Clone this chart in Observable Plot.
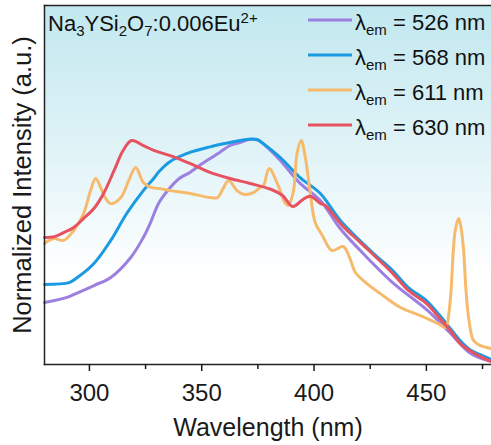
<!DOCTYPE html>
<html><head><meta charset="utf-8">
<script src="https://cdn.jsdelivr.net/npm/d3@7"></script>
<script src="https://cdn.jsdelivr.net/npm/@observablehq/plot@0.6"></script>
<style>
body{margin:0;background:#fff;}
#chart{position:relative;width:491px;height:445px;}
</style>
</head><body><div id="chart"></div>
<script>
// ---- data ----
const seriesLabels = ["526", "568", "611", "630"];
const seriesColors = ["#9b80e0", "#1a9ae2", "#f6ba6c", "#e6525f"];
const majorTicks = [300, 350, 400, 450];
const minorTicks = [325, 375, 425, 475];
const sampleName = ["Na", "3", "YSi", "2", "O", "7", ":0.006Eu", "2+"];

const wl526 = [280, 290, 294, 302, 309.5, 318.4, 324, 327, 331, 336, 340, 344.7, 349, 353.7, 358, 362.6, 367, 371, 375, 380, 385, 393.8, 402.8, 411.7, 420.6, 435, 450.5, 460.8, 469.7, 479];
const int526 = [0.276, 0.299, 0.316, 0.352, 0.388, 0.477, 0.566, 0.628, 0.722, 0.789, 0.829, 0.856, 0.887, 0.918, 0.945, 0.976, 0.989, 1.003, 1.0, 0.96, 0.909, 0.807, 0.731, 0.605, 0.508, 0.365, 0.241, 0.138, 0.049, 0.013];

const wl568 = [280, 291, 294, 302, 309.5, 316.6, 324, 328.7, 331, 336, 344.7, 353.7, 362.6, 370, 374.6, 378, 385, 393.8, 402.8, 411.7, 426, 435, 442, 450, 456, 461, 465, 470, 475, 479];
const int568 = [0.357, 0.365, 0.383, 0.450, 0.553, 0.673, 0.775, 0.830, 0.860, 0.905, 0.945, 0.970, 0.989, 1.003, 1.003, 0.980, 0.922, 0.833, 0.762, 0.642, 0.499, 0.419, 0.343, 0.285, 0.218, 0.156, 0.107, 0.062, 0.040, 0.022];

const wl611 = [280, 282, 284.5, 288.5, 293, 297.4, 300.5, 302.8, 305, 307, 309.5, 314, 317.5, 320.6, 324, 327.3, 331, 336, 344.7, 353.7, 357, 359.5, 362, 365.7, 369, 373, 376, 377.5, 380, 384, 387, 388.5, 390.7, 392.5, 394.3, 396, 398.3, 400.5, 403.7, 408, 413, 416, 418.4, 423, 429.5, 438.5, 447.4, 455, 458.6, 460, 461, 462, 463, 464.4, 465.5, 466.6, 467.5, 468.8, 471, 474, 479];
const int611 = [0.539, 0.553, 0.561, 0.553, 0.597, 0.673, 0.775, 0.829, 0.789, 0.744, 0.717, 0.744, 0.820, 0.878, 0.811, 0.789, 0.784, 0.775, 0.762, 0.744, 0.744, 0.784, 0.820, 0.775, 0.758, 0.766, 0.789, 0.798, 0.873, 0.798, 0.722, 0.709, 0.766, 0.945, 0.998, 0.931, 0.766, 0.633, 0.575, 0.508, 0.526, 0.472, 0.410, 0.365, 0.316, 0.254, 0.218, 0.183, 0.165, 0.227, 0.330, 0.508, 0.606, 0.651, 0.606, 0.508, 0.352, 0.209, 0.107, 0.085, 0.071];

const wl630 = [280, 284.5, 288.5, 293, 297.4, 302, 306.3, 311, 315, 318.8, 324, 328.7, 336, 344.7, 353.7, 362.6, 371.5, 381, 386, 390.5, 395, 398.3, 403, 405, 412.6, 421, 435, 442, 450, 456, 461, 465, 470, 475, 479];
const int630 = [0.566, 0.570, 0.588, 0.611, 0.651, 0.695, 0.762, 0.865, 0.954, 0.998, 0.976, 0.954, 0.931, 0.896, 0.856, 0.829, 0.807, 0.780, 0.753, 0.704, 0.735, 0.750, 0.717, 0.709, 0.619, 0.540, 0.406, 0.330, 0.272, 0.205, 0.147, 0.094, 0.058, 0.031, 0.013];

// ---- build table ----
const seriesWl = [wl526, wl568, wl611, wl630];
const seriesInt = [int526, int568, int611, int630];
const drawOrder = [0, 1, 2, 3];
const data = [];
for (const i of drawOrder) {
  seriesWl[i].forEach((w, j) => data.push({series: seriesLabels[i], wl: w, v: seriesInt[i][j]}));
}

const font = "'Liberation Sans', Arial, Helvetica, sans-serif";
const plot = Plot.plot({
  width: 491, height: 445,
  marginLeft: 44, marginRight: 0, marginTop: 5, marginBottom: 81,
  style: {fontFamily: font, background: "white", color: "#1a1a1a"},
  x: {domain: [280, 479]},
  y: {domain: [0, 1.6]},
  color: {domain: seriesLabels, range: seriesColors},
  marks: [
    Plot.frame({fill: "url(#bgGrad)", stroke: "none"}),
    Plot.line(data, {x: "wl", y: "v", z: "series", stroke: "series", strokeWidth: 3, curve: "catmull-rom", strokeLinejoin: "round"}),
    Plot.frame({anchor: "left", stroke: "#222", strokeWidth: 1.5}),
    Plot.frame({anchor: "top", stroke: "#222", strokeWidth: 1.5}),
    Plot.frame({anchor: "bottom", stroke: "#222", strokeWidth: 1.5}),
    Plot.axisX({ticks: majorTicks, tickSize: 7, tickPadding: 12, fontSize: 24, strokeWidth: 1.5, label: null, tickFormat: d => String(d)}),
    Plot.axisX({ticks: minorTicks, tickSize: 5, strokeWidth: 1.5, label: null, tickFormat: () => ""}),
    Plot.axisX({ticks: [], label: "Wavelength (nm)", labelAnchor: "center", labelArrow: "none", labelOffset: 71, fontSize: 25}),
    Plot.axisY({ticks: [], label: "Normalized Intensity (a.u.)", labelAnchor: "center", labelArrow: "none", labelOffset: 32, fontSize: 25.5})
  ]
});
document.getElementById("chart").appendChild(plot);

// ---- gradient background ----
const svg = d3.select(plot.tagName.toLowerCase() === "svg" ? plot : plot.querySelector("svg"));
const defs = svg.insert("defs", ":first-child");
const grad = defs.append("linearGradient").attr("id", "bgGrad").attr("x1", 0).attr("y1", 0).attr("x2", 0).attr("y2", 1);
grad.append("stop").attr("offset", "0%").attr("stop-color", "#c1e8ef");
grad.append("stop").attr("offset", "40%").attr("stop-color", "#e0f3f7");
grad.append("stop").attr("offset", "75%").attr("stop-color", "#ffffff");
grad.append("stop").attr("offset", "100%").attr("stop-color", "#ffffff");

// ---- sample label ----
const title = svg.append("text").attr("x", 48).attr("y", 31).attr("font-size", 22)
  .attr("font-family", font).attr("fill", "#111").attr("text-anchor", "start");
sampleName.forEach((part, k) => {
  const isSub = k === 1 || k === 3 || k === 5;
  const isSup = k === 7;
  const prevSub = k === 2 || k === 4 || k === 6;
  const t = title.append("tspan").text(part);
  if (isSub) t.attr("font-size", 15).attr("dy", 5);
  else if (isSup) t.attr("font-size", 15).attr("dy", -8);
  else if (prevSub) t.attr("dy", -5);
});

// ---- legend ----
const legend = svg.append("g").attr("font-family", font).attr("font-size", 22).attr("fill", "#111").attr("text-anchor", "start");
seriesLabels.forEach((lab, i) => {
  const y = 20 + i * 35;
  legend.append("line").attr("x1", 308).attr("x2", 352).attr("y1", y).attr("y2", y)
    .attr("stroke", seriesColors[i]).attr("stroke-width", 3);
  const t = legend.append("text").attr("x", 355).attr("y", y + 10).attr("text-anchor", "start");
  t.append("tspan").text("λ");
  t.append("tspan").text("em").attr("font-size", 15).attr("dy", 5);
  t.append("tspan").text(" = " + lab + " nm").attr("dy", -5);
});
</script>
</body></html>
